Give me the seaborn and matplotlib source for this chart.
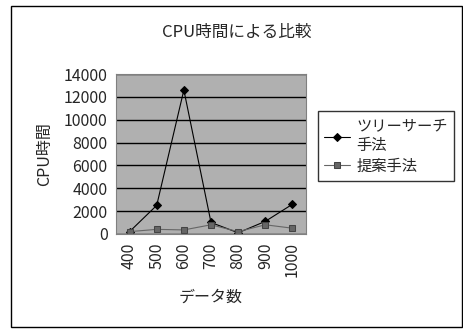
import numpy as np
import pandas as pd
import matplotlib
matplotlib.use("Agg")
import matplotlib.pyplot as plt
import seaborn as sns
from matplotlib.patches import Rectangle

# データ
data_sizes = ["400", "500", "600", "700", "800", "900", "1000"]
tree_search = [200, 2500, 12600, 1000, 100, 1100, 2600]
proposed = [200, 400, 350, 800, 200, 800, 500]
series_names = ["ツリーサーチ\n手法", "提案手法"]
y_ticks = [0, 2000, 4000, 6000, 8000, 10000, 12000, 14000]

sns.set_style("white")
plt.rcParams['font.family'] = ['Noto Sans CJK JP', 'DejaVu Sans']

df = pd.DataFrame({
    'データ数': data_sizes * 2,
    'CPU時間': tree_search + proposed,
    '手法': [series_names[0]] * 7 + [series_names[1]] * 7,
})

fig = plt.figure(figsize=(4.63, 3.29), dpi=100)
ax = fig.add_axes([0.2505, 0.289, 0.4105, 0.486])

# 外枠
fig.patches.append(Rectangle((11 / 463, 2 / 329), 451 / 463, 321 / 329,
                             transform=fig.transFigure, fill=False,
                             edgecolor='black', linewidth=1.0))

ax.set_facecolor('#b0b0b0')
sns.lineplot(data=df[df['手法'] == series_names[0]], x='データ数', y='CPU時間',
             ax=ax, color='black', marker='D', markersize=4.5, linewidth=0.8,
             markeredgecolor='black', label=series_names[0], sort=False)
sns.lineplot(data=df[df['手法'] == series_names[1]], x='データ数', y='CPU時間',
             ax=ax, color='#666666', marker='s', markersize=4.5, linewidth=0.8,
             markeredgecolor='#444444', label=series_names[1], sort=False)

ax.set_xlim(-0.5, 6.5)
ax.set_ylim(0, 14000)
ax.set_yticks(y_ticks)
ax.set_yticklabels([str(v) for v in y_ticks], fontsize=11.5)
ax.set_xticks(range(len(data_sizes)))
ax.set_xticklabels(data_sizes, rotation=90, fontsize=11.5)
ax.tick_params(axis='both', length=0, pad=6)
ax.yaxis.grid(True, color='black', linewidth=1.0)
ax.set_axisbelow(True)
for s in ax.spines.values():
    s.set_color('#808080')
    s.set_linewidth(0.8)

ax.set_xlabel('データ数', fontsize=11.5, labelpad=8)
ax.set_ylabel('CPU時間', fontsize=11.5, labelpad=8)
fig.text(237 / 463, 1 - 32 / 329, 'CPU時間による比較', ha='center', va='center', fontsize=12)

leg = ax.legend(loc='upper left', bbox_to_anchor=(318 / 463, 1 - 111 / 329),
                bbox_transform=fig.transFigure, frameon=True, fontsize=11,
                fancybox=False, borderaxespad=0, handlelength=1.7,
                labelspacing=0.25, borderpad=0.4, handletextpad=0.4)
leg.get_frame().set_edgecolor('black')
leg.get_frame().set_linewidth(1.0)

fig.savefig('out.png', dpi=100)
